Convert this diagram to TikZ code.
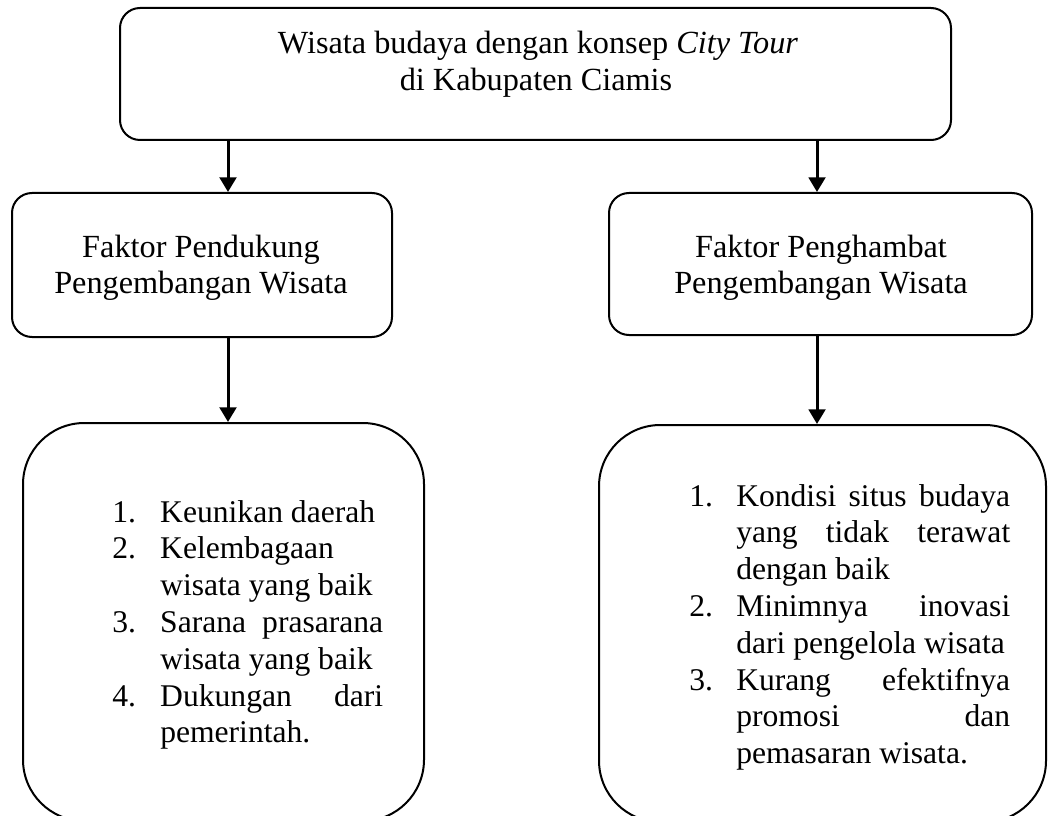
\documentclass[tikz,border=0pt]{standalone}
\usepackage{fontspec}
\setmainfont{Liberation Serif}
\usetikzlibrary{arrows.meta}
\newlength\upx
\setlength\upx{0.75pt}
\begin{document}
\begin{tikzpicture}[x=0.75pt,y=-0.75pt,
  boxa/.style={draw,line width=1.5pt,rounded corners=15pt,inner sep=0pt},
  boxb/.style={draw,line width=1.5pt,rounded corners=46pt,inner sep=0pt},
  lbl/.style={inner sep=0pt,anchor=base,font=\fontsize{24.2pt}{27.6pt}\selectfont},
  lst/.style={inner sep=0pt,anchor=base west,font=\fontsize{23.7pt}{27.6pt}\selectfont},
  arr/.style={line width=2.25pt,-{Triangle[width=12.5pt,length=11pt]}}]
\useasboundingbox (0,0) rectangle (1048,816);
\clip (0,0) rectangle (1048,816);
% boxes
\node[boxa,minimum width=831\upx,minimum height=132\upx] (top) at (535.5,74) {};
\node[boxa,minimum width=380\upx,minimum height=144\upx] (midl) at (202,265) {};
\node[boxa,minimum width=423\upx,minimum height=142\upx] (midr) at (820.5,264) {};
\node[boxb,minimum width=401\upx,minimum height=398\upx] (botl) at (223.5,622) {};
\node[boxb,minimum width=447\upx,minimum height=397\upx] (botr) at (822.5,623.5) {};
% texts
\node[lbl] (t1) at (538,54) {Wisata budaya dengan konsep \textit{City Tour}};
\node[lbl] (t2) at (536,91) {di Kabupaten Ciamis};
\node[lbl] (ml1) at (201,258) {Faktor Pendukung};
\node[lbl] (ml2) at (201,294) {Pengembangan Wisata};
\node[lbl] (mr1) at (821,258) {Faktor Penghambat};
\node[lbl] (mr2) at (821,294) {Pengembangan Wisata};
\node[lst] (ll) at (112,522) {\parbox[t]{271\upx}{%
\hbox{\makebox[48\upx][l]{1.}Keunikan daerah}
\hbox{\makebox[48\upx][l]{2.}Kelembagaan}
\hbox{\kern48\upx wisata yang baik}
\hbox{\makebox[48\upx][l]{3.}\makebox[223\upx][s]{Sarana prasarana}}
\hbox{\kern48\upx wisata yang baik}
\hbox{\makebox[48\upx][l]{4.}\makebox[223\upx][s]{Dukungan dari}}
\hbox{\kern48\upx pemerintah.}}};
\node[lst] (lr) at (689,506) {\parbox[t]{321\upx}{%
\hbox{\makebox[47\upx][l]{1.}\makebox[274\upx][s]{Kondisi situs budaya}}
\hbox{\kern47\upx\makebox[274\upx][s]{yang tidak terawat}}
\hbox{\kern47\upx dengan baik}
\hbox{\makebox[47\upx][l]{2.}\makebox[274\upx][s]{Minimnya inovasi}}
\hbox{\kern47\upx dari pengelola wisata}
\hbox{\makebox[47\upx][l]{3.}\makebox[274\upx][s]{Kurang efektifnya}}
\hbox{\kern47\upx\makebox[274\upx][s]{promosi dan}}
\hbox{\kern47\upx pemasaran wisata.}}};
% connectors
\coordinate (cl) at (228,0);
\coordinate (cr) at (817,0);
\draw[arr] (top.south -| cl) -- (midl.north -| cl);
\draw[arr] (top.south -| cr) -- (midr.north -| cr);
\draw[arr] (midl.south -| cl) -- (botl.north -| cl);
\draw[arr] (midr.south -| cr) -- (botr.north -| cr);
\end{tikzpicture}
\end{document}
